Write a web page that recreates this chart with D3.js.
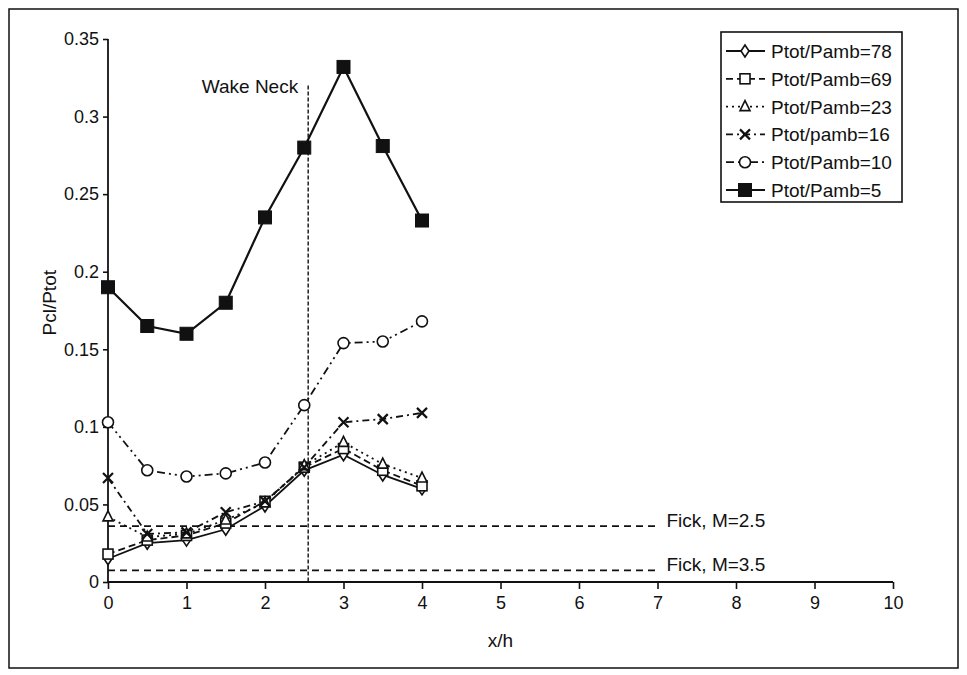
<!DOCTYPE html>
<html><head><meta charset="utf-8">
<script src="https://cdn.jsdelivr.net/npm/d3@7"></script>
<style>
body{margin:0;background:#fff;}
svg text{font-family:"Liberation Sans",Arial,sans-serif;fill:#111;}
</style></head>
<body><svg id="c" width="967" height="675"></svg>
<script>
const xValues = [0, 0.5, 1, 1.5, 2, 2.5, 3, 3.5, 4];
const seriesNames = ["Ptot/Pamb=78","Ptot/Pamb=69","Ptot/Pamb=23","Ptot/pamb=16","Ptot/Pamb=10","Ptot/Pamb=5"];
const p78 = [0.015, 0.025, 0.027, 0.034, 0.049, 0.072, 0.082, 0.069, 0.060];
const p69 = [0.018, 0.027, 0.030, 0.038, 0.052, 0.074, 0.086, 0.072, 0.062];
const p23 = [0.042, 0.029, 0.031, 0.040, 0.051, 0.075, 0.090, 0.076, 0.067];
const p16 = [0.067, 0.031, 0.032, 0.045, 0.052, 0.074, 0.103, 0.105, 0.109];
const p10 = [0.103, 0.072, 0.068, 0.070, 0.077, 0.114, 0.154, 0.155, 0.168];
const p5  = [0.190, 0.165, 0.160, 0.180, 0.235, 0.280, 0.332, 0.281, 0.233];
const xTicks = [0,1,2,3,4,5,6,7,8,9,10];
const yTicks = [0,0.05,0.1,0.15,0.2,0.25,0.3,0.35];
const fickLabels = ["Fick, M=2.5","Fick, M=3.5"];
const fickValues = [0.036, 0.0075];
const fickEnd = 7;
const wakeNeckX = 2.55;
const wakeNeckTop = 0.32;

const svg = d3.select("#c");
const x = d3.scaleLinear().domain([0,10]).range([108,893]);
const y = d3.scaleLinear().domain([0,0.35]).range([582,39]);
const FS = "19px";

// outer frame
svg.append("rect").attr("x",9).attr("y",9).attr("width",949).attr("height",659)
  .attr("fill","none").attr("stroke","#111").attr("stroke-width",1.5);

// axes
const yAxis = d3.axisLeft(y).tickValues(yTicks).tickSize(5).tickPadding(4)
  .tickFormat(d=> d===0?"0":String(+d.toFixed(2)));
const gy = svg.append("g").attr("transform",`translate(${x(0)},0)`).call(yAxis);
const xAxis = d3.axisBottom(x).tickValues(xTicks).tickSize(7).tickPadding(7).tickFormat(d3.format("d"));
const gx = svg.append("g").attr("transform",`translate(0,${y(0)})`).call(xAxis);
[gx,gy].forEach(g=>{
  g.selectAll("path").attr("stroke","#111").attr("stroke-width",1.8);
  g.selectAll("line").attr("stroke","#111").attr("stroke-width",1.6);
  g.selectAll("text").style("font-size","18px").attr("fill","#111");
  g.select(".domain").attr("d", g===gx ? `M${x(0)},0H${x(10)}` : `M0,${y(0)}V${y(0.35)}`);
});

svg.append("text").attr("transform",`translate(56,${y(0.18)}) rotate(-90)`)
  .attr("text-anchor","middle").style("font-size",FS).text("Pcl/Ptot");
svg.append("text").attr("x",x(5)).attr("y",647).attr("text-anchor","middle")
  .style("font-size",FS).text("x/h");

// Fick lines
fickValues.forEach((v,i)=>{
  svg.append("line").attr("x1",x(0)).attr("x2",x(fickEnd)).attr("y1",y(v)).attr("y2",y(v))
    .attr("stroke","#111").attr("stroke-width",1.6).attr("stroke-dasharray","7,5");
  svg.append("text").attr("x",x(fickEnd)+9).attr("y",y(v)+1).style("font-size",FS).text(fickLabels[i]);
});

// wake neck
svg.append("line").attr("x1",x(wakeNeckX)).attr("x2",x(wakeNeckX)).attr("y1",y(wakeNeckTop)).attr("y2",y(0))
  .attr("stroke","#111").attr("stroke-width",1.4).attr("stroke-dasharray","4,2");
svg.append("text").attr("x",x(wakeNeckX)-10).attr("y",y(wakeNeckTop)+7).attr("text-anchor","end")
  .style("font-size",FS).text("Wake Neck");

const seriesData = [p78,p69,p23,p16,p10,p5];
const dashes = [null,"7,4","2,4","7,4,2,4","8,4,2,4,2,4",null];
const markers = ["diamond","square","triangle","x","circle","fsquare"];

function drawMarker(g, type, cx, cy){
  const s = 5;
  if(type==="diamond"){
    g.append("path").attr("d",`M${cx},${cy-s-1}L${cx+s-1},${cy}L${cx},${cy+s+1}L${cx-s+1},${cy}Z`)
     .attr("fill","#fff").attr("stroke","#111").attr("stroke-width",1.6);
  } else if(type==="square"){
    g.append("rect").attr("x",cx-s).attr("y",cy-s).attr("width",2*s).attr("height",2*s)
     .attr("fill","#fff").attr("stroke","#111").attr("stroke-width",1.6);
  } else if(type==="triangle"){
    g.append("path").attr("d",`M${cx},${cy-s-1}L${cx+s},${cy+s-1}L${cx-s},${cy+s-1}Z`)
     .attr("fill","#fff").attr("stroke","#111").attr("stroke-width",1.6);
  } else if(type==="x"){
    g.append("path").attr("d",`M${cx-s},${cy-s}L${cx+s},${cy+s}M${cx+s},${cy-s}L${cx-s},${cy+s}`)
     .attr("stroke","#111").attr("stroke-width",2.2);
  } else if(type==="circle"){
    g.append("circle").attr("cx",cx).attr("cy",cy).attr("r",s+0.5)
     .attr("fill","#fff").attr("stroke","#111").attr("stroke-width",1.6);
  } else if(type==="fsquare"){
    g.append("rect").attr("x",cx-6.5).attr("y",cy-6.5).attr("width",13).attr("height",13)
     .attr("fill","#111").attr("stroke","#111");
  }
}

const line = d3.line().x((d,i)=>x(xValues[i])).y(d=>y(d));
seriesData.forEach((vals,k)=>{
  const g = svg.append("g");
  g.append("path").attr("d",line(vals)).attr("fill","none").attr("stroke","#111")
    .attr("stroke-width",k===5?2.2:1.8).attr("stroke-dasharray",dashes[k]);
  vals.forEach((v,i)=>drawMarker(g,markers[k],x(xValues[i]),y(v)));
});

// legend
const lg = svg.append("g");
lg.append("rect").attr("x",721).attr("y",32).attr("width",181).attr("height",170)
  .attr("fill","#fff").attr("stroke","#111").attr("stroke-width",1.6);
seriesNames.forEach((n,k)=>{
  const cy = 51 + k*27.8;
  lg.append("line").attr("x1",726).attr("x2",765).attr("y1",cy).attr("y2",cy)
    .attr("stroke","#111").attr("stroke-width",k===5?2.2:1.8).attr("stroke-dasharray",dashes[k]);
  drawMarker(lg,markers[k],745,cy);
  lg.append("text").attr("x",771).attr("y",cy+7).style("font-size",FS).text(n);
});
</script></body></html>
